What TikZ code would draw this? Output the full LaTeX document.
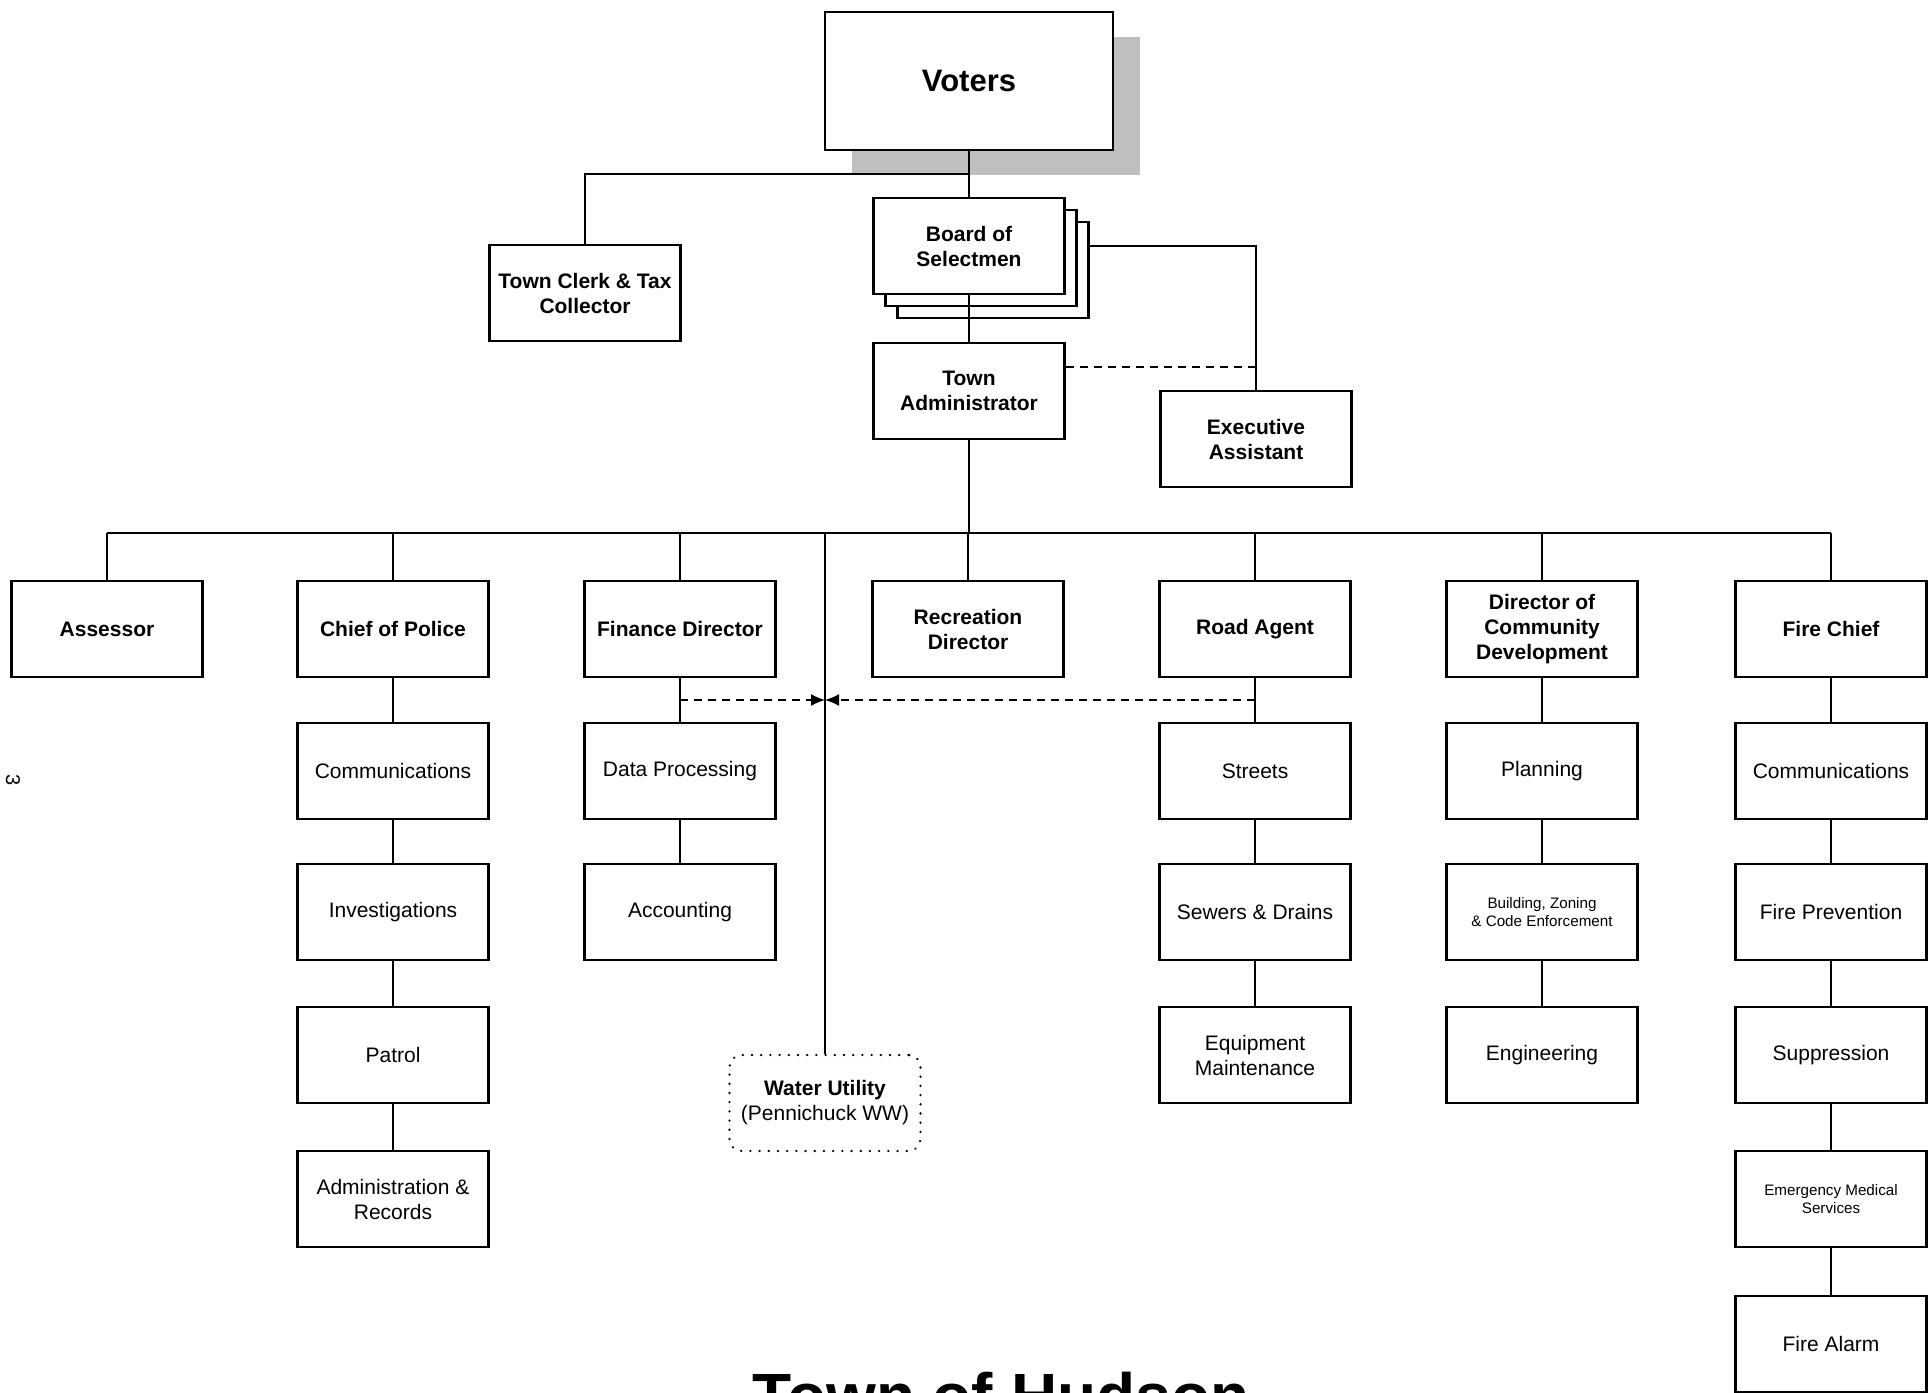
\documentclass[tikz,border=0pt]{standalone}
\usepackage{fontspec}
\setmainfont{Liberation Sans}
\usetikzlibrary{arrows.meta}
\pgfdeclarelayer{background}
\pgfsetlayers{background,main}
\tikzset{
  unit/.style={draw, line width=1.2pt, fill=white, minimum width=95.5pt, minimum height=48pt,
    inner sep=0pt, align=center, font=\fontsize{10.5}{12.5}\selectfont},
  head/.style={unit, font=\fontsize{10.5}{12.5}\selectfont\bfseries},
  smallunit/.style={unit, font=\fontsize{7.6}{9}\selectfont},
  link/.style={line width=0.7pt},
  dashlink/.style={link, dash pattern=on 4pt off 3pt},
  share/.style={dashlink, -{Latex[length=7pt,width=6pt]}}
}
\begin{document}
\begin{tikzpicture}[x=0.5pt,y=-0.5pt]
\useasboundingbox (0,0) rectangle (1932,1392);
\begin{pgfonlayer}{background}
\fill[gray!50] (852,37) rectangle (1140,175);
\end{pgfonlayer}
\node[unit, minimum width=144pt, minimum height=69pt, font=\fontsize{15.5}{18}\selectfont\bfseries] (voters) at (969,81) {Voters};
\node[head] (clerk) at (585,293) {Town Clerk \& Tax\\Collector};
\node[head] (board3) at (993,270) {};
\node[head] (board2) at (981,258) {};
\node[head] (board) at (969,246) {Board of\\Selectmen};
\node[head] (admin) at (969,391) {Town\\Administrator};
\node[head] (assist) at (1256,439) {Executive\\Assistant};

\node[head] (assessor) at (107,629) {Assessor};
\node[head] (police) at (393,629) {Chief of Police};
\node[head] (finance) at (680,629) {Finance Director};
\node[head] (recreation) at (968,629) {Recreation\\Director};
\node[head] (road) at (1255,629) {Road Agent};
\node[head] (cdd) at (1542,629) {Director of\\Community\\Development};
\node[head] (fire) at (1831,629) {Fire Chief};

\node[unit] (pcomm) at (393,771) {Communications};
\node[unit] (invest) at (393,912) {Investigations};
\node[unit] (patrol) at (393,1055) {Patrol};
\node[unit] (records) at (393,1199) {Administration \&\\Records};
\node[unit] (dataproc) at (680,771) {Data Processing};
\node[unit] (account) at (680,912) {Accounting};
\node[unit] (streets) at (1255,771) {Streets};
\node[unit] (sewers) at (1255,912) {Sewers \& Drains};
\node[unit] (equip) at (1255,1055) {Equipment\\Maintenance};
\node[unit] (planning) at (1542,771) {Planning};
\node[smallunit] (building) at (1542,912) {Building, Zoning\\\& Code Enforcement};
\node[unit] (engineering) at (1542,1055) {Engineering};
\node[unit] (fcomm) at (1831,771) {Communications};
\node[unit] (prevent) at (1831,912) {Fire Prevention};
\node[unit] (suppress) at (1831,1055) {Suppression};
\node[smallunit] (ems) at (1831,1199) {Emergency Medical\\Services};
\node[unit] (alarm) at (1831,1344) {Fire Alarm};
\node[unit, rounded corners=6pt, dash pattern=on 0.1pt off 4.5pt, line cap=round] (water) at (825,1103) {\textbf{Water Utility}\\(Pennichuck WW)};

\coordinate (clerkjoin) at (969,174);
\coordinate (assistbend) at (1256,246);
\coordinate (assistjoin) at (1256,367);
\coordinate (bus) at (969,533);
\coordinate (sharejoin) at (825,700);

\begin{pgfonlayer}{background}
\draw[link] (board.east) -- (assistbend) -- (assist.north);
\end{pgfonlayer}
\draw[link] (voters.south) -- (board.north);
\draw[link] (clerkjoin) -| (clerk.north);
\draw[link] (board.south) -- (admin.north);
\draw[dashlink] (admin.east |- assistjoin) -- (assistjoin);
\draw[link] (admin.south) -- (bus);
\draw[link] (assessor.north |- bus) -- (fire.north |- bus);
\foreach \n in {assessor,police,finance,recreation,road,cdd,fire}
  \draw[link] (\n.north |- bus) -- (\n.north);
\draw[link] (water.north |- bus) -- (water.north);
\draw[share] (finance.south |- sharejoin) -- (sharejoin);
\draw[share] (road.south |- sharejoin) -- (sharejoin);
\foreach \a/\b in {police/pcomm,pcomm/invest,invest/patrol,patrol/records,finance/dataproc,dataproc/account,
  road/streets,streets/sewers,sewers/equip,cdd/planning,planning/building,building/engineering,
  fire/fcomm,fcomm/prevent,prevent/suppress,suppress/ems,ems/alarm}
  \draw[link] (\a) -- (\b);

\node[rotate=-90, font=\fontsize{10}{10}\selectfont] (pageno) at (13,780) {3};
\node[anchor=base, font=\fontsize{32}{36}\selectfont\bfseries] (title) at (1001,1418) {Town of Hudson};
\end{tikzpicture}
\end{document}
